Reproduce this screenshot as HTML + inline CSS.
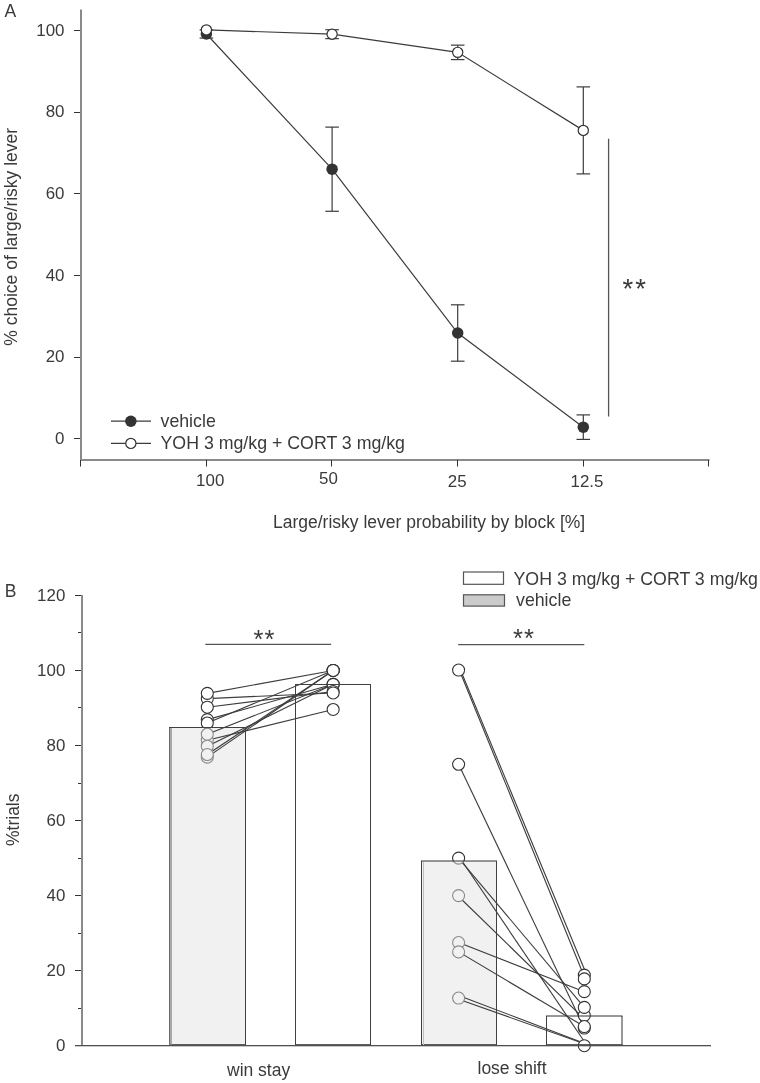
<!DOCTYPE html>
<html><head><meta charset="utf-8"><style>
html,body{margin:0;padding:0;background:#fff;}
svg{display:block;will-change:transform;}
text{font-family:"Liberation Sans",sans-serif;fill:#3a3a3a;}
</style></head><body>
<svg width="760" height="1083" viewBox="0 0 760 1083">
<defs><clipPath id="in169"><rect x="0" y="727.5" width="760" height="318.20000000000005"/></clipPath><clipPath id="out169"><rect x="0" y="0" width="760" height="727.5"/><rect x="0" y="1045.7" width="760" height="100"/></clipPath><clipPath id="in295"><rect x="0" y="684.5" width="760" height="361.20000000000005"/></clipPath><clipPath id="out295"><rect x="0" y="0" width="760" height="684.5"/><rect x="0" y="1045.7" width="760" height="100"/></clipPath><clipPath id="in421"><rect x="0" y="861.0" width="760" height="184.70000000000005"/></clipPath><clipPath id="out421"><rect x="0" y="0" width="760" height="861.0"/><rect x="0" y="1045.7" width="760" height="100"/></clipPath><clipPath id="in546"><rect x="0" y="1016.0" width="760" height="29.700000000000045"/></clipPath><clipPath id="out546"><rect x="0" y="0" width="760" height="1016.0"/><rect x="0" y="1045.7" width="760" height="100"/></clipPath></defs>
<rect width="760" height="1083" fill="#fff"/>
<text x="4.5" y="16.5" font-size="17.5">A</text>
<rect x="80" y="9.5" width="2" height="451.5" fill="#8a8a8a"/>
<line x1="74" y1="438.5" x2="80" y2="438.5" stroke="#333333" stroke-width="1"/>
<text x="64.5" y="444.1" font-size="16.9" text-anchor="end">0</text>
<line x1="74" y1="357.5" x2="80" y2="357.5" stroke="#333333" stroke-width="1"/>
<text x="64.5" y="362.4" font-size="16.9" text-anchor="end">20</text>
<line x1="74" y1="275.5" x2="80" y2="275.5" stroke="#333333" stroke-width="1"/>
<text x="64.5" y="280.7" font-size="16.9" text-anchor="end">40</text>
<line x1="74" y1="193.5" x2="80" y2="193.5" stroke="#333333" stroke-width="1"/>
<text x="64.5" y="199.0" font-size="16.9" text-anchor="end">60</text>
<line x1="74" y1="112.5" x2="80" y2="112.5" stroke="#333333" stroke-width="1"/>
<text x="64.5" y="117.3" font-size="16.9" text-anchor="end">80</text>
<line x1="74" y1="30.5" x2="80" y2="30.5" stroke="#333333" stroke-width="1"/>
<text x="64.5" y="35.6" font-size="16.9" text-anchor="end">100</text>
<rect x="80" y="459" width="629.5" height="2" fill="#8a8a8a"/>
<line x1="80.5" y1="460" x2="80.5" y2="466.5" stroke="#333333" stroke-width="1"/>
<line x1="206.5" y1="460" x2="206.5" y2="466.5" stroke="#333333" stroke-width="1"/>
<line x1="331.5" y1="460" x2="331.5" y2="466.5" stroke="#333333" stroke-width="1"/>
<line x1="457.5" y1="460" x2="457.5" y2="466.5" stroke="#333333" stroke-width="1"/>
<line x1="583.5" y1="460" x2="583.5" y2="466.5" stroke="#333333" stroke-width="1"/>
<line x1="708.5" y1="460" x2="708.5" y2="466.5" stroke="#333333" stroke-width="1"/>
<text x="210.2" y="486.3" font-size="16.9" text-anchor="middle">100</text>
<text x="328.5" y="483.8" font-size="16.9" text-anchor="middle">50</text>
<text x="457.2" y="486.8" font-size="16.9" text-anchor="middle">25</text>
<text x="587" y="486.5" font-size="16.9" text-anchor="middle">12.5</text>
<text x="273" y="527.8" font-size="17.5">Large/risky lever probability by block [%]</text>
<text transform="translate(16.9,345.7) rotate(-90)" x="0" y="0" font-size="17.5">% choice of large/risky lever</text>
<line x1="206.4" y1="29.89" x2="206.4" y2="38.06" stroke="#3c3c3c" stroke-width="1.2"/>
<line x1="199.60" y1="29.89" x2="213.20" y2="29.89" stroke="#3c3c3c" stroke-width="1.2"/>
<line x1="199.60" y1="38.06" x2="213.20" y2="38.06" stroke="#3c3c3c" stroke-width="1.2"/>
<line x1="332.1" y1="127.11" x2="332.1" y2="211.27" stroke="#3c3c3c" stroke-width="1.2"/>
<line x1="325.30" y1="127.11" x2="338.90" y2="127.11" stroke="#3c3c3c" stroke-width="1.2"/>
<line x1="325.30" y1="211.27" x2="338.90" y2="211.27" stroke="#3c3c3c" stroke-width="1.2"/>
<line x1="457.7" y1="304.81" x2="457.7" y2="361.19" stroke="#3c3c3c" stroke-width="1.2"/>
<line x1="450.90" y1="304.81" x2="464.50" y2="304.81" stroke="#3c3c3c" stroke-width="1.2"/>
<line x1="450.90" y1="361.19" x2="464.50" y2="361.19" stroke="#3c3c3c" stroke-width="1.2"/>
<line x1="583.3" y1="414.90" x2="583.3" y2="439.41" stroke="#3c3c3c" stroke-width="1.2"/>
<line x1="576.50" y1="414.90" x2="590.10" y2="414.90" stroke="#3c3c3c" stroke-width="1.2"/>
<line x1="576.50" y1="439.41" x2="590.10" y2="439.41" stroke="#3c3c3c" stroke-width="1.2"/>
<polyline points="206.4,33.98 332.1,169.19 457.7,333.00 583.3,427.16" fill="none" stroke="#3c3c3c" stroke-width="1.2"/>
<circle cx="206.4" cy="33.98" r="5.75" fill="#333333"/>
<circle cx="332.1" cy="169.19" r="5.75" fill="#333333"/>
<circle cx="457.7" cy="333.00" r="5.75" fill="#333333"/>
<circle cx="583.3" cy="427.16" r="5.75" fill="#333333"/>
<line x1="332.1" y1="29.73" x2="332.1" y2="38.63" stroke="#3c3c3c" stroke-width="1.2"/>
<line x1="325.30" y1="29.73" x2="338.90" y2="29.73" stroke="#3c3c3c" stroke-width="1.2"/>
<line x1="325.30" y1="38.63" x2="338.90" y2="38.63" stroke="#3c3c3c" stroke-width="1.2"/>
<line x1="457.7" y1="45.13" x2="457.7" y2="59.59" stroke="#3c3c3c" stroke-width="1.2"/>
<line x1="450.90" y1="45.13" x2="464.50" y2="45.13" stroke="#3c3c3c" stroke-width="1.2"/>
<line x1="450.90" y1="59.59" x2="464.50" y2="59.59" stroke="#3c3c3c" stroke-width="1.2"/>
<line x1="583.3" y1="86.88" x2="583.3" y2="173.89" stroke="#3c3c3c" stroke-width="1.2"/>
<line x1="576.50" y1="86.88" x2="590.10" y2="86.88" stroke="#3c3c3c" stroke-width="1.2"/>
<line x1="576.50" y1="173.89" x2="590.10" y2="173.89" stroke="#3c3c3c" stroke-width="1.2"/>
<polyline points="206.4,29.89 332.1,34.18 457.7,52.36 583.3,130.38" fill="none" stroke="#3c3c3c" stroke-width="1.2"/>
<circle cx="206.4" cy="29.89" r="5.1" fill="#fff" stroke="#333333" stroke-width="1.2"/>
<circle cx="332.1" cy="34.18" r="5.1" fill="#fff" stroke="#333333" stroke-width="1.2"/>
<circle cx="457.7" cy="52.36" r="5.1" fill="#fff" stroke="#333333" stroke-width="1.2"/>
<circle cx="583.3" cy="130.38" r="5.1" fill="#fff" stroke="#333333" stroke-width="1.2"/>
<line x1="608.6" y1="138.8" x2="608.6" y2="416.4" stroke="#555" stroke-width="1.3"/>
<text x="622.6" y="298.2" font-size="27.5" letter-spacing="2">**</text>
<line x1="111" y1="421.2" x2="151" y2="421.2" stroke="#3c3c3c" stroke-width="1.2"/>
<circle cx="130.85" cy="421.2" r="5.75" fill="#333333"/>
<line x1="111" y1="443.4" x2="151" y2="443.4" stroke="#3c3c3c" stroke-width="1.2"/>
<circle cx="130.85" cy="443.4" r="5.1" fill="#fff" stroke="#333333" stroke-width="1.2"/>
<text x="160.5" y="427" font-size="17.75">vehicle</text>
<text x="160.5" y="448.6" font-size="17.75">YOH 3 mg/kg + CORT 3 mg/kg</text>
<text x="4.8" y="596.7" font-size="17.5">B</text>
<rect x="81" y="595" width="2" height="451" fill="#8a8a8a"/>
<line x1="75" y1="1045.5" x2="81" y2="1045.5" stroke="#333333" stroke-width="1"/>
<text x="65.3" y="1050.9" font-size="16.9" text-anchor="end">0</text>
<line x1="78" y1="1008.5" x2="81" y2="1008.5" stroke="#333333" stroke-width="1"/>
<line x1="75" y1="970.5" x2="81" y2="970.5" stroke="#333333" stroke-width="1"/>
<text x="65.3" y="975.9" font-size="16.9" text-anchor="end">20</text>
<line x1="78" y1="933.5" x2="81" y2="933.5" stroke="#333333" stroke-width="1"/>
<line x1="75" y1="895.5" x2="81" y2="895.5" stroke="#333333" stroke-width="1"/>
<text x="65.3" y="900.8" font-size="16.9" text-anchor="end">40</text>
<line x1="78" y1="858.5" x2="81" y2="858.5" stroke="#333333" stroke-width="1"/>
<line x1="75" y1="820.5" x2="81" y2="820.5" stroke="#333333" stroke-width="1"/>
<text x="65.3" y="825.8" font-size="16.9" text-anchor="end">60</text>
<line x1="78" y1="783.5" x2="81" y2="783.5" stroke="#333333" stroke-width="1"/>
<line x1="75" y1="745.5" x2="81" y2="745.5" stroke="#333333" stroke-width="1"/>
<text x="65.3" y="750.7" font-size="16.9" text-anchor="end">80</text>
<line x1="78" y1="707.5" x2="81" y2="707.5" stroke="#333333" stroke-width="1"/>
<line x1="75" y1="670.5" x2="81" y2="670.5" stroke="#333333" stroke-width="1"/>
<text x="65.3" y="675.7" font-size="16.9" text-anchor="end">100</text>
<line x1="78" y1="632.5" x2="81" y2="632.5" stroke="#333333" stroke-width="1"/>
<line x1="75" y1="595.5" x2="81" y2="595.5" stroke="#333333" stroke-width="1"/>
<text x="65.3" y="600.6" font-size="16.9" text-anchor="end">120</text>
<text transform="translate(19.3,846) rotate(-90)" font-size="17.5">%trials</text>
<text x="227" y="1075.7" font-size="17.5">win stay</text>
<text x="477.5" y="1074.3" font-size="17.5">lose shift</text>
<rect x="463.5" y="572" width="40" height="12.3" fill="#fff" stroke="#555" stroke-width="1.2"/>
<rect x="463.5" y="594.8" width="41" height="11.3" fill="#cbcbcb" stroke="#555" stroke-width="1.2"/>
<text x="513.5" y="584.5" font-size="17.75">YOH 3 mg/kg + CORT 3 mg/kg</text>
<text x="516" y="606" font-size="17.75">vehicle</text>
<line x1="205.3" y1="644.3" x2="331.2" y2="644.3" stroke="#555" stroke-width="1.3"/>
<text x="253.5" y="648" font-size="25.5" letter-spacing="1.1">**</text>
<line x1="458.2" y1="644.7" x2="584.3" y2="644.7" stroke="#555" stroke-width="1.3"/>
<text x="512.9" y="647.1" font-size="25.5" letter-spacing="1.1">**</text>
<rect x="169.5" y="727.5" width="76.0" height="318.0" fill="#f1f1f1"/>
<rect x="295.5" y="684.5" width="75.0" height="361.0" fill="#ffffff"/>
<rect x="421.5" y="861.0" width="75.0" height="184.5" fill="#f1f1f1"/>
<rect x="546.5" y="1016.0" width="75.5" height="29.5" fill="#ffffff"/>
<line x1="207.3" y1="698.59" x2="333.15" y2="692.97" stroke="#3c3c3c" stroke-width="1.1"/>
<line x1="207.3" y1="693.34" x2="333.15" y2="670.45" stroke="#3c3c3c" stroke-width="1.1"/>
<line x1="207.3" y1="707.22" x2="333.15" y2="691.46" stroke="#3c3c3c" stroke-width="1.1"/>
<line x1="207.3" y1="719.61" x2="333.15" y2="684.33" stroke="#3c3c3c" stroke-width="1.1"/>
<line x1="207.3" y1="722.99" x2="333.15" y2="670.45" stroke="#3c3c3c" stroke-width="1.1"/>
<line x1="207.3" y1="740.25" x2="333.15" y2="709.48" stroke="#3c3c3c" stroke-width="1.1"/>
<line x1="207.3" y1="734.24" x2="333.15" y2="684.33" stroke="#3c3c3c" stroke-width="1.1"/>
<line x1="207.3" y1="746.25" x2="333.15" y2="684.33" stroke="#3c3c3c" stroke-width="1.1"/>
<line x1="207.3" y1="757.13" x2="333.15" y2="670.45" stroke="#3c3c3c" stroke-width="1.1"/>
<line x1="207.3" y1="754.51" x2="333.15" y2="670.45" stroke="#3c3c3c" stroke-width="1.1"/>
<line x1="459.3" y1="670.00" x2="584.3" y2="976.70" stroke="#3c3c3c" stroke-width="1.1"/>
<line x1="460.5" y1="670.00" x2="585.5" y2="972.00" stroke="#3c3c3c" stroke-width="1.1"/>
<line x1="458.6" y1="764.26" x2="584.3" y2="1028.06" stroke="#3c3c3c" stroke-width="1.1"/>
<line x1="458.6" y1="858.08" x2="584.3" y2="1007.42" stroke="#3c3c3c" stroke-width="1.1"/>
<line x1="458.6" y1="856.00" x2="584.3" y2="1041.50" stroke="#3c3c3c" stroke-width="1.1"/>
<line x1="458.6" y1="896.50" x2="584.3" y2="1019.00" stroke="#3c3c3c" stroke-width="1.1"/>
<line x1="458.6" y1="942.51" x2="584.3" y2="991.66" stroke="#3c3c3c" stroke-width="1.1"/>
<line x1="458.6" y1="951.89" x2="584.3" y2="1026.56" stroke="#3c3c3c" stroke-width="1.1"/>
<line x1="458.6" y1="995.50" x2="584.3" y2="1043.20" stroke="#3c3c3c" stroke-width="1.1"/>
<line x1="458.6" y1="999.20" x2="584.3" y2="1043.80" stroke="#3c3c3c" stroke-width="1.1"/>
<circle cx="207.3" cy="698.59" r="6.0" fill="#fff" stroke="#333333" stroke-width="1.1" clip-path="url(#out169)"/>
<circle cx="207.3" cy="698.59" r="6.0" fill="#f1f1f1" stroke="#8a8a8a" stroke-width="1.1" clip-path="url(#in169)"/>
<circle cx="207.3" cy="693.34" r="6.0" fill="#fff" stroke="#333333" stroke-width="1.1" clip-path="url(#out169)"/>
<circle cx="207.3" cy="693.34" r="6.0" fill="#f1f1f1" stroke="#8a8a8a" stroke-width="1.1" clip-path="url(#in169)"/>
<circle cx="207.3" cy="707.22" r="6.0" fill="#fff" stroke="#333333" stroke-width="1.1" clip-path="url(#out169)"/>
<circle cx="207.3" cy="707.22" r="6.0" fill="#f1f1f1" stroke="#8a8a8a" stroke-width="1.1" clip-path="url(#in169)"/>
<circle cx="207.3" cy="719.61" r="6.0" fill="#fff" stroke="#333333" stroke-width="1.1" clip-path="url(#out169)"/>
<circle cx="207.3" cy="719.61" r="6.0" fill="#f1f1f1" stroke="#8a8a8a" stroke-width="1.1" clip-path="url(#in169)"/>
<circle cx="207.3" cy="722.99" r="6.0" fill="#fff" stroke="#333333" stroke-width="1.1" clip-path="url(#out169)"/>
<circle cx="207.3" cy="722.99" r="6.0" fill="#f1f1f1" stroke="#8a8a8a" stroke-width="1.1" clip-path="url(#in169)"/>
<circle cx="207.3" cy="740.25" r="6.0" fill="#fff" stroke="#333333" stroke-width="1.1" clip-path="url(#out169)"/>
<circle cx="207.3" cy="740.25" r="6.0" fill="#f1f1f1" stroke="#8a8a8a" stroke-width="1.1" clip-path="url(#in169)"/>
<circle cx="207.3" cy="734.24" r="6.0" fill="#fff" stroke="#333333" stroke-width="1.1" clip-path="url(#out169)"/>
<circle cx="207.3" cy="734.24" r="6.0" fill="#f1f1f1" stroke="#8a8a8a" stroke-width="1.1" clip-path="url(#in169)"/>
<circle cx="207.3" cy="746.25" r="6.0" fill="#fff" stroke="#333333" stroke-width="1.1" clip-path="url(#out169)"/>
<circle cx="207.3" cy="746.25" r="6.0" fill="#f1f1f1" stroke="#8a8a8a" stroke-width="1.1" clip-path="url(#in169)"/>
<circle cx="207.3" cy="757.13" r="6.0" fill="#fff" stroke="#333333" stroke-width="1.1" clip-path="url(#out169)"/>
<circle cx="207.3" cy="757.13" r="6.0" fill="#f1f1f1" stroke="#8a8a8a" stroke-width="1.1" clip-path="url(#in169)"/>
<circle cx="207.3" cy="754.51" r="6.0" fill="#fff" stroke="#333333" stroke-width="1.1" clip-path="url(#out169)"/>
<circle cx="207.3" cy="754.51" r="6.0" fill="#f1f1f1" stroke="#8a8a8a" stroke-width="1.1" clip-path="url(#in169)"/>
<circle cx="333.15" cy="670.45" r="6.0" fill="#fff" stroke="#333333" stroke-width="1.1"/>
<circle cx="333.15" cy="670.45" r="6.0" fill="#fff" stroke="#333333" stroke-width="1.1"/>
<circle cx="333.15" cy="670.45" r="6.0" fill="#fff" stroke="#333333" stroke-width="1.1"/>
<circle cx="333.15" cy="670.45" r="6.0" fill="#fff" stroke="#333333" stroke-width="1.1"/>
<circle cx="333.15" cy="684.33" r="6.0" fill="#fff" stroke="#333333" stroke-width="1.1"/>
<circle cx="333.15" cy="684.33" r="6.0" fill="#fff" stroke="#333333" stroke-width="1.1"/>
<circle cx="333.15" cy="684.33" r="6.0" fill="#fff" stroke="#333333" stroke-width="1.1"/>
<circle cx="333.15" cy="691.46" r="6.0" fill="#fff" stroke="#333333" stroke-width="1.1"/>
<circle cx="333.15" cy="692.97" r="6.0" fill="#fff" stroke="#333333" stroke-width="1.1"/>
<circle cx="333.15" cy="709.48" r="6.0" fill="#fff" stroke="#333333" stroke-width="1.1"/>
<circle cx="458.6" cy="670.07" r="6.0" fill="#fff" stroke="#333333" stroke-width="1.1" clip-path="url(#out421)"/>
<circle cx="458.6" cy="670.07" r="6.0" fill="#f1f1f1" stroke="#8a8a8a" stroke-width="1.1" clip-path="url(#in421)"/>
<circle cx="458.6" cy="764.26" r="6.0" fill="#fff" stroke="#333333" stroke-width="1.1" clip-path="url(#out421)"/>
<circle cx="458.6" cy="764.26" r="6.0" fill="#f1f1f1" stroke="#8a8a8a" stroke-width="1.1" clip-path="url(#in421)"/>
<circle cx="458.6" cy="858.08" r="6.0" fill="#fff" stroke="#333333" stroke-width="1.1" clip-path="url(#out421)"/>
<circle cx="458.6" cy="858.08" r="6.0" fill="#f1f1f1" stroke="#8a8a8a" stroke-width="1.1" clip-path="url(#in421)"/>
<circle cx="458.6" cy="895.60" r="6.0" fill="#fff" stroke="#333333" stroke-width="1.1" clip-path="url(#out421)"/>
<circle cx="458.6" cy="895.60" r="6.0" fill="#f1f1f1" stroke="#8a8a8a" stroke-width="1.1" clip-path="url(#in421)"/>
<circle cx="458.6" cy="942.51" r="6.0" fill="#fff" stroke="#333333" stroke-width="1.1" clip-path="url(#out421)"/>
<circle cx="458.6" cy="942.51" r="6.0" fill="#f1f1f1" stroke="#8a8a8a" stroke-width="1.1" clip-path="url(#in421)"/>
<circle cx="458.6" cy="951.89" r="6.0" fill="#fff" stroke="#333333" stroke-width="1.1" clip-path="url(#out421)"/>
<circle cx="458.6" cy="951.89" r="6.0" fill="#f1f1f1" stroke="#8a8a8a" stroke-width="1.1" clip-path="url(#in421)"/>
<circle cx="458.6" cy="998.04" r="6.0" fill="#fff" stroke="#333333" stroke-width="1.1" clip-path="url(#out421)"/>
<circle cx="458.6" cy="998.04" r="6.0" fill="#f1f1f1" stroke="#8a8a8a" stroke-width="1.1" clip-path="url(#in421)"/>
<circle cx="584.3" cy="975.15" r="6.0" fill="#fff" stroke="#333333" stroke-width="1.1"/>
<circle cx="584.3" cy="978.91" r="6.0" fill="#fff" stroke="#333333" stroke-width="1.1"/>
<circle cx="584.3" cy="991.66" r="6.0" fill="#fff" stroke="#333333" stroke-width="1.1"/>
<circle cx="584.3" cy="1015.30" r="6.0" fill="#fff" stroke="#333333" stroke-width="1.1"/>
<circle cx="584.3" cy="1007.42" r="6.0" fill="#fff" stroke="#333333" stroke-width="1.1"/>
<circle cx="584.3" cy="1028.06" r="6.0" fill="#fff" stroke="#333333" stroke-width="1.1"/>
<circle cx="584.3" cy="1026.56" r="6.0" fill="#fff" stroke="#333333" stroke-width="1.1"/>
<circle cx="584.3" cy="1045.70" r="6.0" fill="#fff" stroke="#333333" stroke-width="1.1"/>
<line x1="169.0" y1="727.5" x2="246.0" y2="727.5" stroke="#404040" stroke-width="1"/>
<line x1="245.5" y1="727.5" x2="245.5" y2="1045" stroke="#404040" stroke-width="1"/>
<line x1="169.0" y1="1044.7" x2="246.0" y2="1044.7" stroke="#3a3a3a" stroke-width="1"/>
<rect x="169" y="728.0" width="1" height="317.5" fill="#6a6a6a"/>
<rect x="170" y="728.0" width="2" height="316.5" fill="#a8a8a8"/>
<line x1="295.0" y1="684.5" x2="371.0" y2="684.5" stroke="#404040" stroke-width="1"/>
<line x1="370.5" y1="684.5" x2="370.5" y2="1045" stroke="#404040" stroke-width="1"/>
<line x1="295.0" y1="1044.7" x2="371.0" y2="1044.7" stroke="#3a3a3a" stroke-width="1"/>
<line x1="295.5" y1="684.5" x2="295.5" y2="1045" stroke="#404040" stroke-width="1"/>
<line x1="421.0" y1="861.0" x2="497.0" y2="861.0" stroke="#303030" stroke-width="1"/>
<line x1="496.5" y1="861.0" x2="496.5" y2="1045" stroke="#404040" stroke-width="1"/>
<line x1="421.0" y1="1044.7" x2="497.0" y2="1044.7" stroke="#3a3a3a" stroke-width="1"/>
<line x1="421.5" y1="861.0" x2="421.5" y2="1045" stroke="#404040" stroke-width="1"/>
<rect x="423" y="862.0" width="1" height="183.0" fill="#c0c0c0"/>
<line x1="546.0" y1="1016.0" x2="622.5" y2="1016.0" stroke="#303030" stroke-width="1"/>
<line x1="622.0" y1="1016.0" x2="622.0" y2="1045" stroke="#303030" stroke-width="1"/>
<line x1="546.0" y1="1044.7" x2="622.5" y2="1044.7" stroke="#3a3a3a" stroke-width="1"/>
<line x1="546.5" y1="1016.0" x2="546.5" y2="1045" stroke="#404040" stroke-width="1"/>
<rect x="75" y="1045" width="636" height="1.3" fill="#505050"/>
</svg>
</body></html>
